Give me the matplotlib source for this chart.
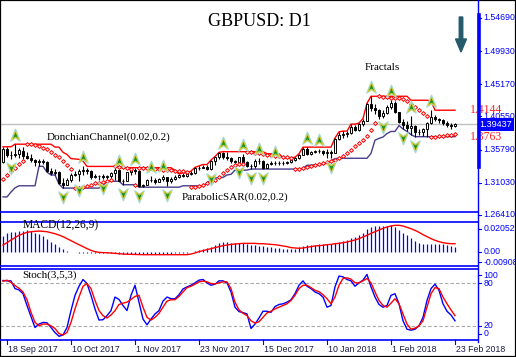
import matplotlib
matplotlib.use('Agg')
from matplotlib import pyplot as plt
from matplotlib.lines import Line2D
from matplotlib.patches import Rectangle, FancyArrow
from matplotlib.path import Path
from matplotlib.transforms import offset_copy

# GBPUSD daily bars, 15 Sep 2017 .. 23 Feb 2018
opens = [1.3400,1.3590,1.3505,1.3500,1.3515,1.3560,1.3490,1.3460,1.3435,1.3395,
         1.3410,1.3400,1.3270,1.3240,1.3265,1.3105,1.3065,1.3150,1.3210,1.3235,
         1.3275,1.3285,1.3270,1.3185,1.3195,1.3200,1.3190,1.3205,1.3250,1.3280,
         1.3135,1.3130,1.3255,1.3280,1.3270,1.3060,1.3075,1.3150,1.3145,1.3120,
         1.3155,1.3185,1.3125,1.3160,1.3190,1.3215,1.3205,1.3230,1.3250,1.3310,
         1.3320,1.3330,1.3300,1.3415,1.3470,1.3525,1.3475,1.3460,1.3415,1.3395,
         1.3470,1.3405,1.3350,1.3340,1.3420,1.3415,1.3320,1.3375,1.3380,1.3390,
         1.3385,1.3390,1.3400,1.3435,1.3455,1.3505,1.3590,1.3520,1.3545,1.3565,
         1.3560,1.3530,1.3550,1.3530,1.3725,1.3790,1.3805,1.3820,1.3905,1.3860,
         1.3945,1.3990,1.4235,1.4170,1.4150,1.4055,1.4110,1.4190,1.4255,1.4120,
         1.3975,1.3930,1.3895,1.3925,1.3830,1.3830,1.3875,1.3960,1.4045,1.4015,
         1.4000,1.3960,1.3935,1.3925]
highs = [1.3616,1.3620,1.3560,1.3657,1.3600,1.3615,1.3540,1.3510,1.3450,1.3445,
         1.3440,1.3415,1.3320,1.3305,1.3275,1.3165,1.3170,1.3250,1.3275,1.3295,
         1.3338,1.3315,1.3290,1.3230,1.3210,1.3230,1.3215,1.3260,1.3320,1.3290,
         1.3155,1.3265,1.3290,1.3320,1.3280,1.3090,1.3160,1.3195,1.3165,1.3170,
         1.3210,1.3190,1.3185,1.3215,1.3230,1.3245,1.3235,1.3270,1.3325,1.3345,
         1.3365,1.3360,1.3430,1.3480,1.3540,1.3550,1.3550,1.3480,1.3435,1.3480,
         1.3520,1.3420,1.3370,1.3450,1.3460,1.3430,1.3390,1.3420,1.3410,1.3410,
         1.3410,1.3420,1.3445,1.3470,1.3520,1.3615,1.3610,1.3560,1.3580,1.3585,
         1.3575,1.3585,1.3575,1.3745,1.3835,1.3845,1.3840,1.3945,1.3930,1.3960,
         1.4025,1.4245,1.4345,1.4230,1.4160,1.4145,1.4225,1.4288,1.4280,1.4125,
         1.4020,1.3985,1.4065,1.3935,1.3880,1.3890,1.3975,1.4145,1.4075,1.4030,
         1.4015,1.3995,1.3965,1.3955]
lows = [1.3380,1.3475,1.3450,1.3480,1.3455,1.3450,1.3440,1.3400,1.3350,1.3340,
        1.3370,1.3255,1.3215,1.3220,1.3085,1.3027,1.3065,1.3120,1.3200,1.3125,
        1.3220,1.3230,1.3160,1.3175,1.3150,1.3155,1.3155,1.3175,1.3140,1.3125,
        1.3075,1.3125,1.3215,1.3225,1.3040,1.3040,1.3065,1.3120,1.3090,1.3110,
        1.3135,1.3060,1.3100,1.3145,1.3170,1.3190,1.3180,1.3215,1.3225,1.3290,
        1.3310,1.3290,1.3285,1.3360,1.3445,1.3440,1.3430,1.3380,1.3375,1.3390,
        1.3395,1.3335,1.3300,1.3320,1.3370,1.3300,1.3310,1.3360,1.3355,1.3365,
        1.3360,1.3370,1.3385,1.3420,1.3450,1.3495,1.3505,1.3500,1.3525,1.3525,
        1.3505,1.3460,1.3455,1.3525,1.3715,1.3740,1.3760,1.3810,1.3840,1.3840,
        1.3925,1.3985,1.4135,1.4090,1.4025,1.4030,1.4090,1.4160,1.4110,1.3960,
        1.3875,1.3840,1.3795,1.3765,1.3790,1.3770,1.3765,1.3945,1.3990,1.3965,
        1.3935,1.3900,1.3870,1.3910]
closes = [1.3590,1.3505,1.3500,1.3515,1.3580,1.3490,1.3460,1.3435,1.3395,1.3410,
          1.3400,1.3270,1.3240,1.3265,1.3105,1.3065,1.3150,1.3210,1.3235,1.3275,
          1.3285,1.3270,1.3185,1.3195,1.3200,1.3190,1.3205,1.3250,1.3290,1.3135,
          1.3130,1.3255,1.3280,1.3270,1.3060,1.3075,1.3150,1.3145,1.3120,1.3155,
          1.3185,1.3125,1.3160,1.3190,1.3215,1.3205,1.3230,1.3250,1.3310,1.3320,
          1.3330,1.3300,1.3415,1.3470,1.3525,1.3475,1.3460,1.3415,1.3395,1.3470,
          1.3405,1.3350,1.3340,1.3420,1.3415,1.3320,1.3375,1.3380,1.3390,1.3385,
          1.3390,1.3400,1.3435,1.3455,1.3505,1.3590,1.3520,1.3545,1.3565,1.3560,
          1.3530,1.3550,1.3530,1.3725,1.3790,1.3805,1.3820,1.3905,1.3860,1.3945,
          1.3990,1.4235,1.4170,1.4150,1.4055,1.4110,1.4190,1.4255,1.4120,1.3975,
          1.3930,1.3895,1.3925,1.3830,1.3830,1.3875,1.3960,1.4045,1.4015,1.4000,
          1.3960,1.3935,1.3925,1.3944]

donchian_upper = [1.3620]*3 + [1.3657]*10 + [1.3615,1.3615,1.3540,1.3510,1.3450,1.3445,1.3440,1.3415] \
    + [1.3338]*9 + [1.3320]*13 \
    + [1.3280,1.3230,1.3245,1.3245,1.3270,1.3325,1.3345,1.3365,1.3365,1.3430,1.3480,1.3540] \
    + [1.3550]*11 + [1.3520]*4 + [1.3460]*3 + [1.3470,1.3520] + [1.3615]*8 \
    + [1.3745,1.3835,1.3845,1.3845,1.3945,1.3945,1.3960,1.4025,1.4245] \
    + [1.4345]*10 + [1.4288]*5 + [1.4280] + [1.4145]*6
donchian_lower = [1.2900,1.2900,1.2970,1.3030] + [1.3060]*5 + [1.3340,1.3340,1.3255,1.3215,1.3215,1.3085] \
    + [1.3027]*10 + [1.3065,1.3120] + [1.3125]*3 + [1.3075]*4 + [1.3040]*11 + [1.3060]*6 \
    + [1.3100,1.3145,1.3170,1.3180,1.3180,1.3215,1.3225] + [1.3285]*4 + [1.3300]*13 \
    + [1.3310,1.3355,1.3355,1.3360,1.3360,1.3370,1.3385,1.3420,1.3450,1.3455] + [1.3455]*7 \
    + [1.3525,1.3715,1.3740,1.3760,1.3810,1.3840,1.3840,1.3925,1.3875,1.3840,1.3795] + [1.3765]*11

sar = [1.3153,1.3209,1.3266,1.3316,1.3370,1.3416,1.3657,1.3653,1.3643,1.3625,
       1.3602,1.3581,1.3549,1.3509,1.3473,1.3419,1.3356,1.3304,1.3027,1.3032,
       1.3042,1.3060,1.3077,1.3093,1.3107,1.3121,1.3134,1.3146,1.3338,1.3334,
       1.3326,1.3311,1.3296,1.3075,1.3320,1.3320,1.3314,1.3309,1.3304,1.3298,
       1.3293,1.3288,1.3283,1.3278,1.3273,1.3269,1.3264,1.3040,1.3045,1.3056,
       1.3073,1.3097,1.3118,1.3149,1.3189,1.3238,1.3288,1.3330,1.3365,1.3375,
       1.3375,1.3550,1.3546,1.3536,1.3526,1.3517,1.3509,1.3500,1.3492,1.3485,
       1.3477,1.3470,1.3463,1.3300,1.3303,1.3312,1.3330,1.3347,1.3363,1.3378,
       1.3393,1.3406,1.3419,1.3430,1.3455,1.3493,1.3535,1.3572,1.3625,1.3669,
       1.3716,1.3772,1.3866,1.3962,1.4345,1.4339,1.4332,1.4326,1.4320,1.4314,
       1.4300,1.4275,1.4240,1.4195,1.4144,1.4098,1.4058,1.3765,1.3765,1.3773,
       1.3780,1.3787,1.3795,1.3802]

fractal_up = [3, 20, 29, 33, 37, 40, 55, 60, 64, 68, 76, 79, 92, 97, 102, 107]
fractal_down = [2, 15, 19, 25, 30, 34, 41, 52, 59, 62, 65, 82, 95, 100, 103]

macd_main = [0.0143,0.0167,0.0175,0.0181,0.0187,0.0190,0.0196,0.0190,0.0167,0.0158,
             0.0143,0.0113,0.0086,0.0069,0.0048,0.0027,0.0006,-0.0002,-0.0004,-0.0005,
             -0.0006,-0.0006,-0.0007,-0.0008,-0.0010,-0.0011,-0.0012,-0.0012,-0.0013,-0.0014,
             -0.0015,-0.0015,-0.0015,-0.0016,-0.0016,-0.0016,-0.0016,-0.0016,-0.0015,-0.0015,
             -0.0015,-0.0014,-0.0014,-0.0013,-0.0012,-0.0010,-0.0005,0.0003,0.0012,0.0018,
             0.0024,0.0033,0.0042,0.0062,0.0077,0.0086,0.0092,0.0083,0.0080,0.0077,
             0.0077,0.0071,0.0065,0.0060,0.0056,0.0054,0.0048,0.0042,0.0036,0.0033,
             0.0030,0.0027,0.0024,0.0030,0.0042,0.0054,0.0060,0.0062,0.0065,0.0068,
             0.0071,0.0071,0.0074,0.0080,0.0089,0.0098,0.0110,0.0122,0.0137,0.0151,
             0.0172,0.0202,0.0226,0.0232,0.0232,0.0232,0.0235,0.0244,0.0220,0.0196,
             0.0172,0.0149,0.0122,0.0101,0.0083,0.0071,0.0068,0.0071,0.0071,0.0068,
             0.0068,0.0065,0.0056,0.0042]
macd_signal = [0.0062,0.0083,0.0107,0.0128,0.0149,0.0163,0.0175,0.0181,0.0184,0.0187,
               0.0184,0.0181,0.0172,0.0163,0.0151,0.0137,0.0119,0.0101,0.0083,0.0065,
               0.0048,0.0030,0.0015,0.0003,-0.0003,-0.0006,-0.0006,-0.0009,-0.0012,-0.0015,
               -0.0018,-0.0020,-0.0021,-0.0022,-0.0023,-0.0024,-0.0024,-0.0024,-0.0024,-0.0024,
               -0.0024,-0.0024,-0.0024,-0.0024,-0.0024,-0.0024,-0.0024,-0.0018,-0.0009,0.0003,
               0.0012,0.0021,0.0030,0.0039,0.0048,0.0056,0.0062,0.0068,0.0071,0.0074,
               0.0077,0.0077,0.0077,0.0077,0.0074,0.0074,0.0071,0.0068,0.0065,0.0060,
               0.0054,0.0048,0.0039,0.0036,0.0033,0.0036,0.0042,0.0048,0.0054,0.0056,
               0.0060,0.0065,0.0068,0.0074,0.0077,0.0083,0.0089,0.0098,0.0107,0.0119,
               0.0134,0.0149,0.0166,0.0181,0.0196,0.0211,0.0223,0.0232,0.0238,0.0238,
               0.0232,0.0220,0.0208,0.0193,0.0175,0.0155,0.0137,0.0119,0.0104,0.0092,
               0.0083,0.0077,0.0074,0.0074]

stoch_k = [83.8,83.3,83.3,72.4,70.5,65.2,48.6,32.9,17.6,22.4,
           24.8,24.3,17.6,10.5,5.2,7.1,17.6,41.4,62.9,75.7,
           85.2,79.5,62.9,43.8,28.1,28.6,34.3,41.4,60.5,57.1,
           48.6,41.4,62.9,77.1,53.3,29.5,21.4,29.5,36.7,41.4,
           54.8,60.5,58.1,58.1,63.8,71.9,74.8,77.1,80.5,84.3,
           85.2,80.5,77.1,78.6,83.3,83.3,80.5,67.6,46.2,40.0,
           38.6,36.7,16.2,22.4,31.0,40.5,40.5,39.0,47.1,50.0,
           51.0,53.3,56.7,65.2,77.1,83.3,75.7,72.4,67.6,65.2,
           60.5,46.2,48.6,74.8,90.0,89.0,85.2,83.3,75.7,80.5,
           84.3,92.4,74.8,60.5,50.0,46.2,48.6,62.9,65.2,51.0,
           27.1,15.2,13.8,15.2,20.0,31.9,55.7,72.4,78.6,70.0,
           51.0,40.5,35.2,27.1]
stoch_d = [82.9,84.3,81.0,76.7,72.9,67.6,56.7,39.0,24.8,20.0,
           22.4,22.4,20.0,16.2,9.0,7.1,10.5,24.8,43.8,60.5,
           75.7,79.5,72.4,55.7,41.4,34.3,31.0,35.2,41.4,50.0,
           51.9,53.3,57.1,61.4,62.9,46.2,31.9,28.1,31.9,37.6,
           46.2,54.8,56.7,56.7,61.4,67.6,73.8,75.7,78.6,81.9,
           82.9,81.9,79.5,79.0,80.5,81.9,81.9,72.4,53.3,42.4,
           37.6,34.3,27.1,23.8,25.7,31.9,38.1,40.5,43.8,46.2,
           48.6,51.0,55.7,62.9,72.4,77.1,77.1,73.8,70.0,68.1,
           63.8,58.1,51.0,60.5,77.1,86.7,87.6,85.7,80.5,80.5,
           83.3,86.7,80.5,67.6,55.7,48.6,46.2,51.9,58.1,51.0,
           36.7,22.4,15.2,16.7,20.0,27.1,46.2,65.2,73.8,72.4,
           60.5,51.0,42.4,34.3]

price_ticks = [1.5469, 1.4993, 1.4517, 1.4055, 1.3579, 1.3103, 1.2641]
price_labels = ['1.54690', '1.49930', '1.45170', '1.40550', '1.35790', '1.31030', '1.26410']
macd_ticks = [0.02052, 0.0, -0.00908]
macd_labels = ['0.02052', '0.00', '-0.00908']
stoch_ticks = [91.5, 80, 20, 8.5]
stoch_labels = ['100', '80', '20', '0']
date_pos = [1, 17, 33, 49, 65, 81, 97, 113]
date_labels = ['18 Sep 2017', '10 Oct 2017', '1 Nov 2017', '23 Nov 2017',
               '15 Dec 2017', '10 Jan 2018', '1 Feb 2018', '23 Feb 2018']
last_price = 1.39437

W, H = 516, 357
BLUE = '#0000ff'
SERIF = 'Liberation Serif'
SANS = 'Liberation Sans'

fig = plt.figure(figsize=(W / 100, H / 100), dpi=100)
fig.patch.set_facecolor('white')


def fbox(x0, y0, x1, y1):
    return [x0 / W, 1 - y1 / H, (x1 - x0) / W, (y1 - y0) / H]


def fline(x0, y0, x1, y1, **kw):
    fig.add_artist(Line2D([x0 / W, x1 / W], [1 - y0 / H, 1 - y1 / H], **kw))


def ftext(x, y, s, **kw):
    fig.text(x / W, 1 - y / H, s, **kw)


def right_ticks(ax, ticks, labels):
    tr = ax.get_yaxis_transform()
    for v, lbl in zip(ticks, labels):
        ax.plot([1.0, 1.007], [v, v], color=BLUE, lw=0.8, transform=tr, clip_on=False)
        ax.text(1.012, v, lbl, transform=tr, color=BLUE, fontsize=6.3, family=SANS,
                ha='left', va='center', clip_on=False)


ax = fig.add_axes(fbox(0, 0, 478, 211))
ax_macd = fig.add_axes(fbox(0, 221, 478, 266))
ax_st = fig.add_axes(fbox(0, 269, 478, 340))
for a in (ax, ax_macd, ax_st):
    a.set_xlim(-0.75, 118.75)
    a.set_xticks([])
    a.set_yticks([])
    for s in a.spines.values():
        s.set_visible(False)
    a.patch.set_alpha(0)

x = list(range(len(closes)))

# main price panel
ax.set_ylim(1.2698, 1.5727)
ax.axhline(last_price, color='#c0c0c0', lw=1, zorder=1)
ax.plot(x, donchian_upper, color='#ff0000', lw=1, zorder=2)
ax.plot(x, donchian_lower, color='#483d8b', lw=1, zorder=2)
ax.vlines(x, lows, highs, color='black', lw=0.8, zorder=3)
body = [c - o for o, c in zip(opens, closes)]
face = ['black' if c < o else 'white' for o, c in zip(opens, closes)]
ax.bar(x, body, bottom=opens, width=0.6, color=face, edgecolor='black', lw=0.7, zorder=4)
ax.plot(x, sar, ls='none', marker='D', ms=2.0, mfc='white', mec='#ff0000', mew=0.7, zorder=5)

arrow_up = Path([(0, 1), (0.75, -0.9), (0, -0.35), (-0.75, -0.9), (0, 1)],
                [Path.MOVETO, Path.LINETO, Path.LINETO, Path.LINETO, Path.CLOSEPOLY])
arrow_dn = Path([(0, -1), (0.75, 0.9), (0, 0.35), (-0.75, 0.9), (0, -1)],
                [Path.MOVETO, Path.LINETO, Path.LINETO, Path.LINETO, Path.CLOSEPOLY])
above = offset_copy(ax.transData, fig=fig, x=0, y=9, units='dots')
below = offset_copy(ax.transData, fig=fig, x=0, y=-9, units='dots')
for idx, mk, tr, src in [(fractal_up, arrow_up, above, highs), (fractal_down, arrow_dn, below, lows)]:
    vals = [src[i] for i in idx]
    ax.plot(idx, vals, ls='none', marker=mk, ms=9, mfc='#a6dcd6', mec='#a6dcd6',
            transform=tr, zorder=6, clip_on=False)
    ax.plot(idx, vals, ls='none', marker=mk, ms=6.5, mfc='#1f8f1f', mec='#d8cc20', mew=0.6,
            transform=tr, zorder=7, clip_on=False)

right_ticks(ax, price_ticks, price_labels)
ax.text(1.003, last_price, '1.39437', transform=ax.get_yaxis_transform(),
        color='white', fontsize=6.6, family=SANS, ha='left', va='center', clip_on=False,
        bbox=dict(boxstyle='square,pad=0.2', fc=BLUE, ec='none'), zorder=10)
ax.text(116.8, donchian_upper[-1], '1.4144', color='#ff2020', fontsize=8.5, family=SERIF,
        ha='left', va='center', clip_on=False, zorder=9)
ax.text(116.8, donchian_lower[-1], '1.3763', color='#ff2020', fontsize=8.5, family=SERIF,
        ha='left', va='center', clip_on=False, zorder=9)

# MACD panel
ax_macd.set_ylim(-0.01249, 0.02765)
ax_macd.vlines(x, 0, macd_main, color=BLUE, lw=0.9)
ax_macd.plot(x, macd_signal, color='#ff0000', lw=1)
right_ticks(ax_macd, macd_ticks, macd_labels)

# Stochastic panel
ax_st.set_ylim(0, 100)
for lvl in (80, 20):
    ax_st.axhline(lvl, color='#a8a8a8', lw=0.8, ls=(0, (3, 2)))
ax_st.plot(x, stoch_k, color=BLUE, lw=1)
ax_st.plot(x, stoch_d, color='#ff0000', lw=1)
right_ticks(ax_st, stoch_ticks, stoch_labels)

# date axis
for i, lbl in zip(date_pos, date_labels):
    px = 3 + 4 * i
    fline(px, 340, px, 344, color=BLUE, lw=0.8)
    ftext(px + 1, 349, lbl, fontsize=6.3, family=SANS, ha='left', va='center', color='#1a1a4a')

# panel borders
for yy in (211.5, 221.5, 266, 269, 340):
    fline(0, yy, 478, yy, color=BLUE, lw=1.2)
fline(478, 0, 478, 342, color=BLUE, lw=1.0)
fline(479, 15, 479, 167, color=BLUE, lw=2.6)

# titles and labels
ftext(259, 21, 'GBPUSD: D1', fontsize=13, family=SERIF, ha='center', va='center')
ftext(365, 68, 'Fractals', fontsize=8, family=SERIF, ha='left', va='center')
ftext(47, 137, 'DonchianChannel(0.02,0.2)', fontsize=8, family=SERIF, ha='left', va='center')
ftext(182, 197, 'ParabolicSAR(0.02,0.2)', fontsize=8, family=SERIF, ha='left', va='center')
ftext(23, 225, 'MACD(12,26,9)', fontsize=8.3, family=SERIF, ha='left', va='center')
ftext(22, 275, 'Stoch(3,5,3)', fontsize=8, family=SERIF, ha='left', va='center')

fig.add_artist(FancyArrow(461 / W, 1 - 17 / H, 0, -35 / H, width=3.5 / W, head_width=11 / W,
                          head_length=13 / H, length_includes_head=True,
                          color='#245a6a', transform=fig.transFigure))
fig.add_artist(Rectangle((0, 0), 1, 1, transform=fig.transFigure, fill=False,
                         ec='black', lw=1.6))

fig.savefig('out.png', dpi=100)
